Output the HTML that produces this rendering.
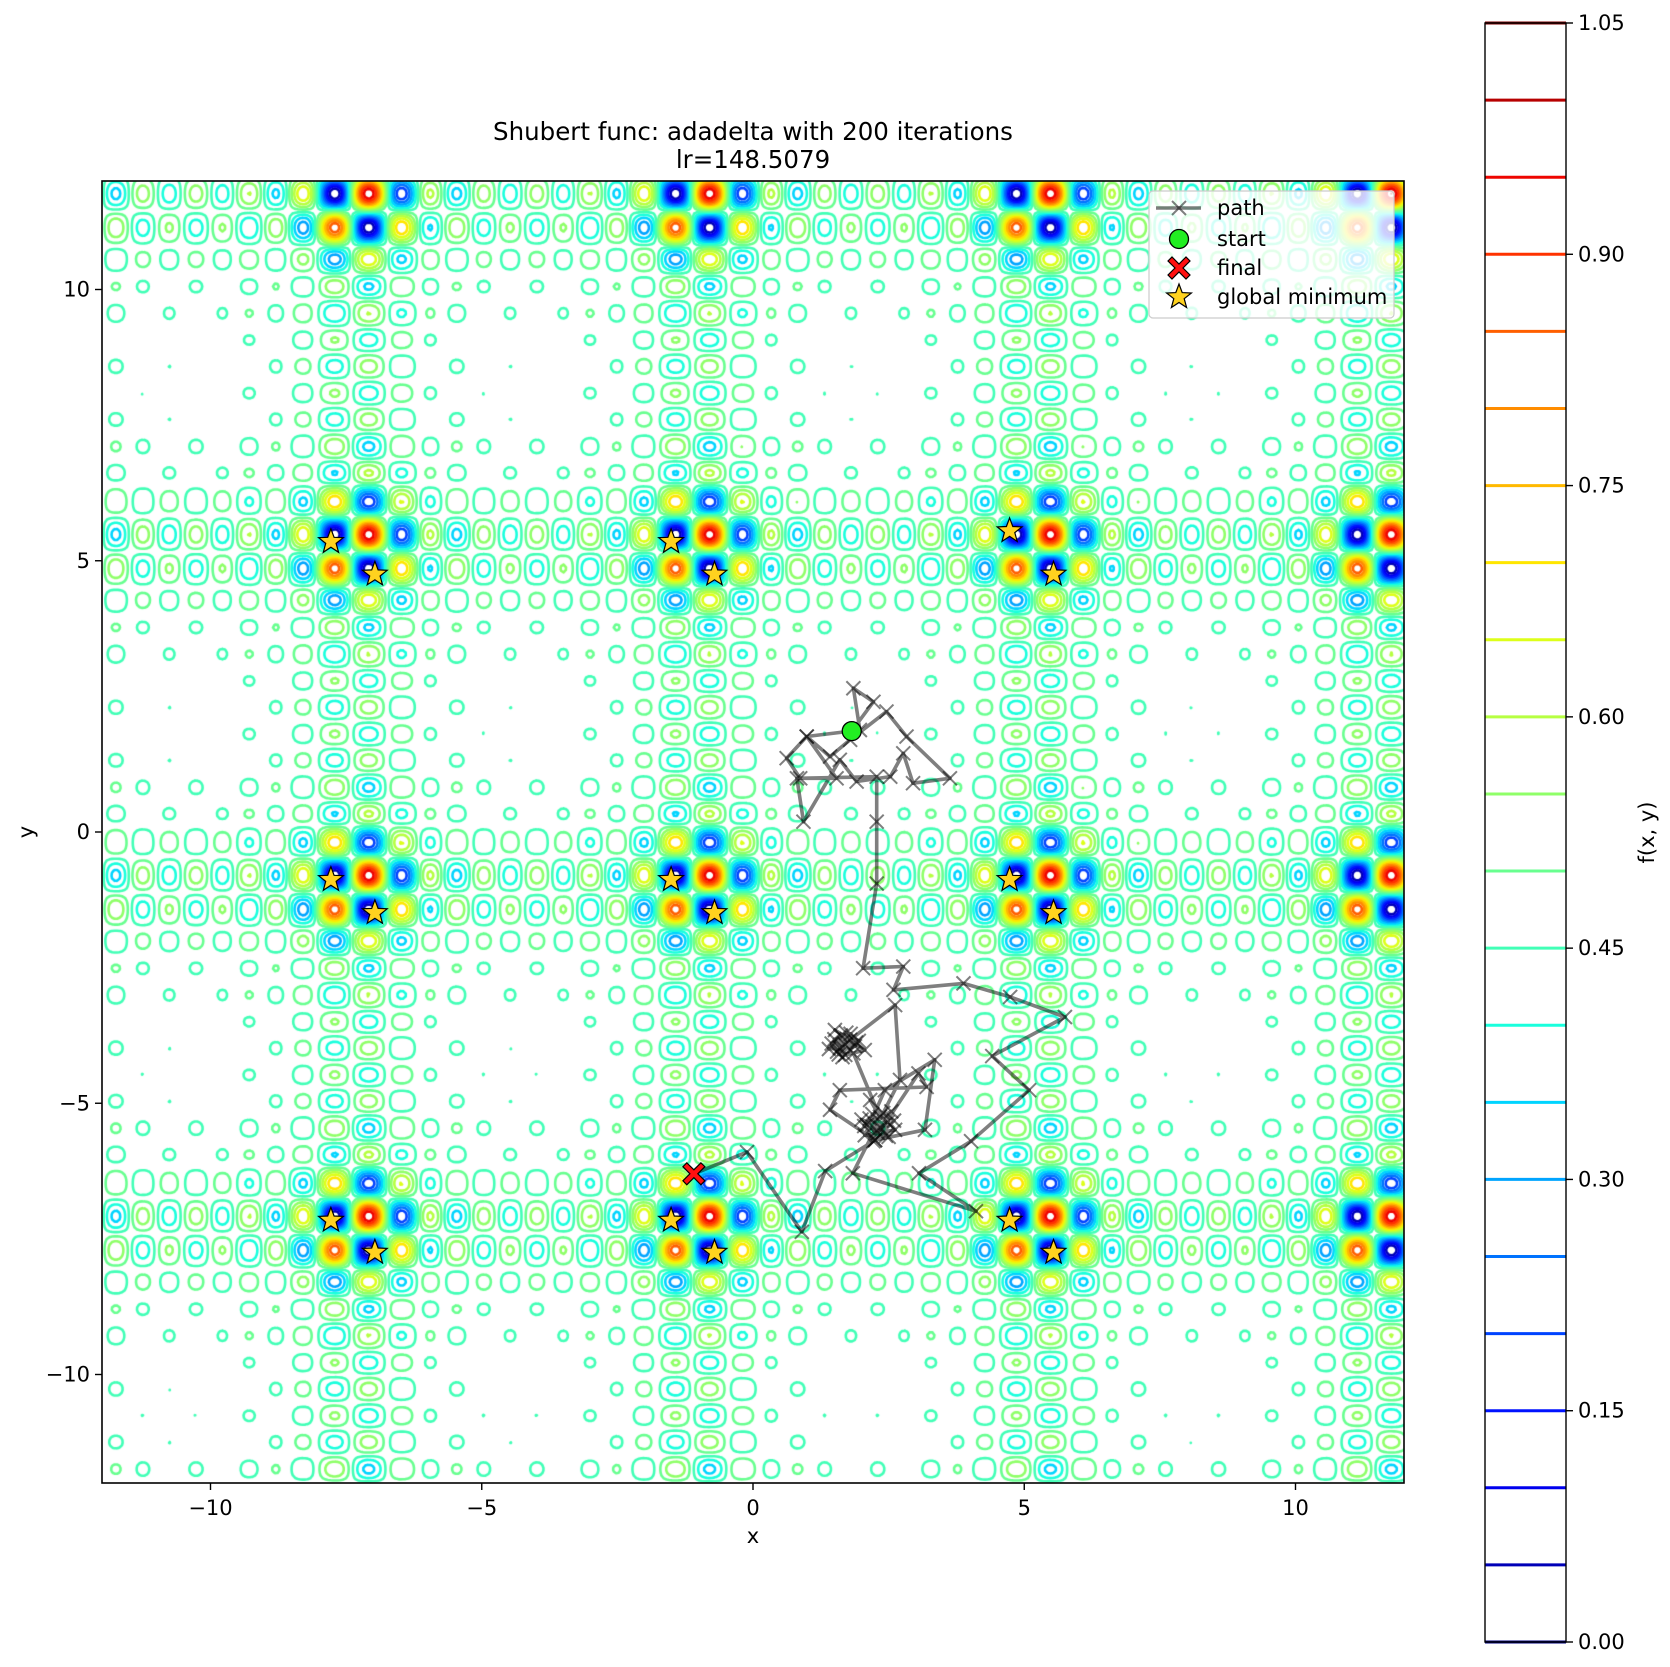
<!DOCTYPE html>
<html><head><meta charset="utf-8">
<style>
html,body{margin:0;padding:0;background:#fff;}
#wrap{position:relative;width:1670px;height:1667px;overflow:hidden;font-family:"DejaVu Sans","Liberation Sans",sans-serif;}
canvas{position:absolute;left:0;top:0;}
svg{position:absolute;left:0;top:0;}
</style></head>
<body>
<div id="wrap">
<canvas id="cv" width="1670" height="1667"></canvas>
<svg id="sv" width="1670" height="1667" xmlns="http://www.w3.org/2000/svg"></svg>
</div>
<script>
// ---- data ----
const xTicks = [-10, -5, 0, 5, 10];
const yTicks = [-10, -5, 0, 5, 10];
const cbTicks = [0.00, 0.15, 0.30, 0.45, 0.60, 0.75, 0.90, 1.05];
const levels = [0,0.05,0.1,0.15,0.2,0.25,0.3,0.35,0.4,0.45,0.5,0.55,0.6,0.65,0.7,0.75,0.8,0.85,0.9,0.95,1.0,1.05];
const starX = [-7.78,-6.97,-1.51,-0.71,4.73,5.54,-7.78,-6.97,-1.51,-0.71,4.73,5.54,-7.78,-6.97,-1.51,-0.71,4.73,5.54];
const starY = [5.35,4.75,5.35,4.75,5.55,4.75,-0.88,-1.49,-0.88,-1.49,-0.88,-1.49,-7.16,-7.75,-7.16,-7.75,-7.16,-7.75];
const pathX = [1.82,2.22,1.85,1.97,0.99,0.62,0.87,1.54,0.99,1.42,1.79,2.46,2.83,3.63,2.95,2.77,2.53,1.91,1.60,0.93,0.81,2.28,2.28,2.28,2.03,2.77,2.59,3.88,4.74,5.75,4.41,5.09,4.02,3.06,4.11,1.84,2.71,2.62,1.79,1.51,2.06,1.70,1.45,1.62,1.88,1.55,1.72,1.95,1.60,1.40,1.80,1.65,1.50,1.90,1.70,1.58,1.85,2.34,2.16,2.62,2.06,2.43,3.35,3.17,2.25,2.48,2.10,2.55,2.30,2.20,2.45,2.00,2.35,2.15,2.50,2.28,2.05,2.40,2.60,2.22,3.05,3.20,1.60,1.42,2.25,1.33,0.90,-0.11,-1.09];
const pathY = [1.86,2.40,2.65,1.88,1.76,1.36,0.99,0.99,1.76,1.39,1.70,2.22,1.76,0.99,0.90,1.45,1.02,0.93,1.33,0.19,0.99,1.02,0.19,-0.95,-2.51,-2.48,-2.91,-2.79,-3.04,-3.41,-4.13,-4.76,-5.70,-6.29,-6.99,-6.29,-4.57,-3.19,-3.83,-3.65,-4.02,-4.11,-3.90,-3.75,-3.95,-4.05,-3.70,-3.85,-3.98,-4.00,-3.72,-4.15,-3.82,-3.88,-3.92,-4.10,-4.08,-5.25,-4.94,-5.49,-5.59,-4.76,-4.20,-5.49,-5.68,-5.35,-5.40,-5.15,-5.55,-5.20,-5.60,-5.30,-5.45,-5.28,-5.62,-5.50,-5.42,-5.18,-5.32,-5.70,-4.45,-4.70,-4.76,-5.12,-5.68,-6.25,-7.37,-5.90,-6.30];

// ---- geometry ----
const L=102, T=181, W=1302, H=1302;
const sx = x => L + (x+12)/24*W;
const sy = y => T + (12-y)/24*H;
const CBL=1485, CBR=1566, CBT=23, CBB=1642;
const cy = v => CBB - v/1.05*(CBB-CBT);

function interp(pts,t){for(let i=1;i<pts.length;i++){if(t<=pts[i][0]){const a=pts[i-1],b=pts[i];return a[1]+(b[1]-a[1])*(t-a[0])/(b[0]-a[0]);}}return pts[pts.length-1][1];}
function jet(t){
 const r=interp([[0,0],[0.35,0],[0.66,1],[0.89,1],[1,0.5]],t);
 const g=interp([[0,0],[0.125,0],[0.375,1],[0.64,1],[0.91,0],[1,0]],t);
 const b=interp([[0,0.5],[0.11,1],[0.34,1],[0.65,0],[1,0]],t);
 return `rgb(${Math.round(r*255)},${Math.round(g*255)},${Math.round(b*255)})`;
}
function sh(x){let s=0;for(let i=1;i<=5;i++)s+=i*Math.cos((i+1)*x+i);return s;}

// ---- contour ----
const N=520;
const gx=[],fx=[];
for(let i=0;i<N;i++){const x=-12+24*i/(N-1);gx.push(x);fx.push(sh(x));}
const F=new Float64Array(N*N);
let mn=Infinity,mx=-Infinity;
for(let j=0;j<N;j++)for(let i=0;i<N;i++){const v=fx[i]*fx[j];F[j*N+i]=v;if(v<mn)mn=v;if(v>mx)mx=v;}
for(let k=0;k<F.length;k++)F[k]=(F[k]-mn)/(mx-mn);
const cv=document.getElementById('cv');const ctx=cv.getContext('2d');
ctx.save();ctx.beginPath();ctx.rect(L,T,W,H);ctx.clip();
ctx.lineWidth=2.6;ctx.lineCap='round';ctx.lineJoin='round';
const px=i=>L+i/(N-1)*W, py=j=>T+H-j/(N-1)*H;
levels.forEach(lv=>{
 ctx.strokeStyle=jet(lv/1.05);ctx.beginPath();
 for(let j=0;j<N-1;j++)for(let i=0;i<N-1;i++){
  const a=F[j*N+i],b=F[j*N+i+1],c=F[(j+1)*N+i+1],d=F[(j+1)*N+i];
  const pts=[];
  if((a<lv)!==(b<lv)){const t=(lv-a)/(b-a);pts.push([px(i+t),py(j)]);}
  if((b<lv)!==(c<lv)){const t=(lv-b)/(c-b);pts.push([px(i+1),py(j+t)]);}
  if((c<lv)!==(d<lv)){const t=(lv-c)/(d-c);pts.push([px(i+1-t),py(j+1)]);}
  if((d<lv)!==(a<lv)){const t=(lv-d)/(a-d);pts.push([px(i),py(j+1-t)]);}
  for(let k=0;k+1<pts.length;k+=2){ctx.moveTo(pts[k][0],pts[k][1]);ctx.lineTo(pts[k+1][0],pts[k+1][1]);}
 }
 ctx.stroke();
});
ctx.restore();

// ---- svg overlay ----
const NS='http://www.w3.org/2000/svg';
const sv=document.getElementById('sv');
function mk(tag,attrs,parent){const e=document.createElementNS(NS,tag);for(const k in attrs)e.setAttribute(k,attrs[k]);(parent||sv).appendChild(e);return e;}
function txt(s,x,y,attrs,parent){const e=mk('text',Object.assign({x:x,y:y,'font-size':21,'font-family':'DejaVu Sans, Liberation Sans, sans-serif',fill:'#000'},attrs||{}),parent);e.textContent=s;return e;}

// path
const pg=mk('g',{});


let d='';pathX.forEach((x,i)=>{d+=(i?'L':'M')+sx(x).toFixed(1)+','+sy(pathY[i]).toFixed(1);});
mk('path',{d:d,fill:'none',stroke:'rgba(0,0,0,0.5)','stroke-width':3.6,'stroke-linejoin':'round'},pg);
pathX.forEach((x,i)=>{
 const X=sx(x),Y=sy(pathY[i]),r=7;
 const m=mk('path',{d:`M${X-r},${Y-r}L${X+r},${Y+r}M${X-r},${Y+r}L${X+r},${Y-r}`,stroke:'rgba(0,0,0,0.5)','stroke-width':2},pg);
 
 
});

function starPath(X,Y,R){let s='';for(let k=0;k<10;k++){const r=k%2?R*0.42:R;const a=-Math.PI/2+k*Math.PI/5;s+=(k?'L':'M')+(X+r*Math.cos(a)).toFixed(1)+','+(Y+r*Math.sin(a)).toFixed(1);}return s+'Z';}
function xPath(X,Y,R){const w=R*0.36;const p=[[0,-w],[R-w,-R],[R,-R+w],[w,0],[R,R-w],[R-w,R],[0,w],[-R+w,R],[-R,R-w],[-w,0],[-R,-R+w],[-R+w,-R]];return 'M'+p.map(q=>(X+q[0]).toFixed(1)+','+(Y+q[1]).toFixed(1)).join('L')+'Z';}

// stars
starX.forEach((x,i)=>{
 const s=mk('path',{d:starPath(sx(x),sy(starY[i]),13),fill:'#FFD21F',stroke:'#000','stroke-width':1.2});
 
 
});
// start & final
const st=mk('circle',{cx:sx(pathX[0]),cy:sy(pathY[0]),r:9.5,fill:'#22EE22',stroke:'#000','stroke-width':1.3});


const fi=mk('path',{d:xPath(sx(pathX[pathX.length-1]),sy(pathY[pathY.length-1]),11),fill:'#FF1010',stroke:'#000','stroke-width':1.2});



// axes frame
const fr=mk('rect',{x:L,y:T,width:W,height:H,fill:'none',stroke:'#000','stroke-width':1.6});


xTicks.forEach(v=>{
 const X=sx(v);mk('line',{x1:X,y1:T+H,x2:X,y2:T+H+7,stroke:'#000','stroke-width':1.4});
 const t=txt((v<0?'\u2212':'')+Math.abs(v),X,T+H+32,{'text-anchor':'middle'});
 
 
});
yTicks.forEach(v=>{
 const Y=sy(v);mk('line',{x1:L-7,y1:Y,x2:L,y2:Y,stroke:'#000','stroke-width':1.4});
 const t=txt((v<0?'\u2212':'')+Math.abs(v),L-12,Y+7,{'text-anchor':'end'});
 
 
});
const xl=txt('x',L+W/2,1543,{'text-anchor':'middle'});


const yl=txt('y',0,0,{'text-anchor':'middle',transform:`translate(33,${T+H/2}) rotate(-90)`});


const t1=txt('Shubert func: adadelta with 200 iterations',L+W/2,140,{'text-anchor':'middle','font-size':24.5});


const t2=txt('lr=148.5079',L+W/2,168,{'text-anchor':'middle','font-size':24.5});



// legend
const lg=mk('g',{});


mk('rect',{x:1149,y:191,width:245,height:127,rx:4,fill:'rgba(255,255,255,0.8)',stroke:'#cccccc','stroke-width':1.2},lg);
mk('line',{x1:1156,y1:208,x2:1201,y2:208,stroke:'rgba(0,0,0,0.5)','stroke-width':3.6},lg);
mk('path',{d:'M1172,201L1186,215M1172,215L1186,201',stroke:'rgba(0,0,0,0.5)','stroke-width':2},lg);
mk('circle',{cx:1179,cy:239,r:9.5,fill:'#22EE22',stroke:'#000','stroke-width':1.3},lg);
mk('path',{d:xPath(1179,268,11),fill:'#FF1010',stroke:'#000','stroke-width':1.2},lg);
mk('path',{d:starPath(1179,297,13),fill:'#FFD21F',stroke:'#000','stroke-width':1.2},lg);
[['path',208],['start',239],['final',268],['global minimum',297]].forEach(e=>{
 const t=txt(e[0],1217,e[1]+7,{},lg);
 
 
});

// colorbar
const cb=mk('g',{});


levels.forEach(v=>{
 const l=mk('line',{x1:CBL,y1:cy(v),x2:CBR,y2:cy(v),stroke:jet(v/1.05),'stroke-width':3},cb);
 
 
});
mk('rect',{x:CBL,y:CBT,width:CBR-CBL,height:CBB-CBT,fill:'none',stroke:'#000','stroke-width':1.4},cb);
cbTicks.forEach(v=>{
 const Y=cy(v);mk('line',{x1:CBR,y1:Y,x2:CBR+7,y2:Y,stroke:'#000','stroke-width':1.4},cb);
 const t=txt(v.toFixed(2),CBR+12,Y+7,{},cb);
 
 
});
const cbl=txt('f(x, y)',0,0,{'text-anchor':'middle',transform:`translate(1654,${(CBT+CBB)/2}) rotate(-90)`},cb);


</script>
</body></html>
